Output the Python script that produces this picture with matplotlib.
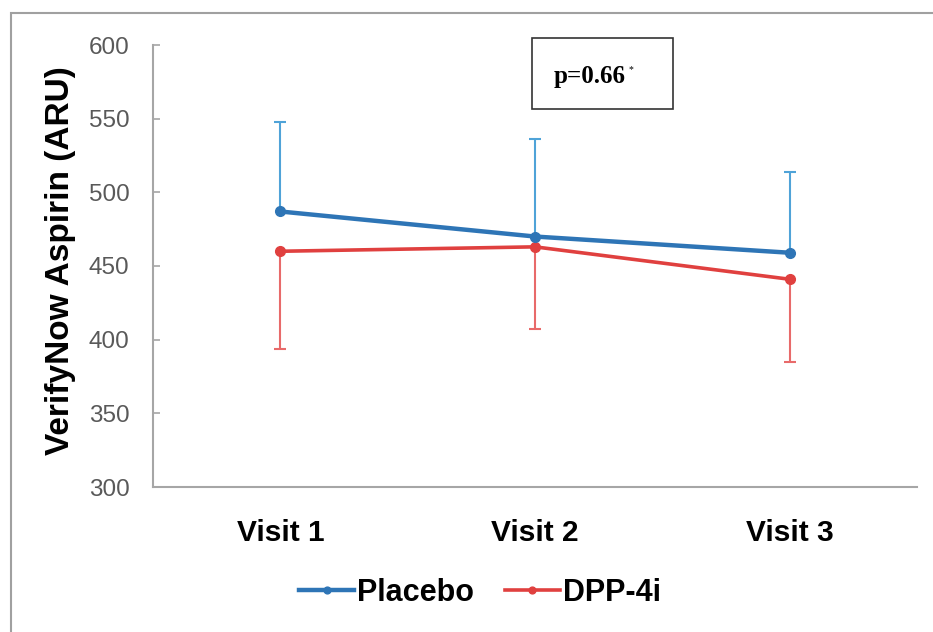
import matplotlib
matplotlib.use("Agg")
import matplotlib.pyplot as plt
from matplotlib.patches import Rectangle
import numpy as np

visits = ["Visit 1", "Visit 2", "Visit 3"]
placebo = [487, 470, 459]
placebo_sd = [61, 66, 55]
dpp4i = [460, 463, 441]
dpp4i_sd = [66, 56, 56]
series_names = ["Placebo", "DPP-4i"]
y_ticks = [300, 350, 400, 450, 500, 550, 600]

W, H = 933, 632
fig = plt.figure(figsize=(W / 100, H / 100), dpi=100)
ax = fig.add_axes([153 / W, 1 - 487 / H, (917 - 153) / W, (487 - 45) / H])

narrow = ["Liberation Sans Narrow", "Liberation Sans", "DejaVu Sans"]
x = np.arange(len(visits))
placebo = np.array(placebo)
dpp4i = np.array(dpp4i)
placebo_sd = np.array(placebo_sd)
dpp4i_sd = np.array(dpp4i_sd)

blue, blue_err = "#2E75B6", "#4FA3D8"
red, red_err = "#E0403F", "#E86A6A"

# one-sided error bars: placebo up, DPP-4i down
ax.vlines(x, placebo, placebo + placebo_sd, color=blue_err, lw=1.5, zorder=2)
ax.plot(x, placebo + placebo_sd, ls="none", marker="_", ms=9, mew=1.5, color=blue_err, zorder=2)
ax.vlines(x, dpp4i - dpp4i_sd, dpp4i, color=red_err, lw=1.5, zorder=2)
ax.plot(x, dpp4i - dpp4i_sd, ls="none", marker="_", ms=9, mew=1.5, color=red_err, zorder=2)

ax.plot(x, placebo, color=blue, lw=3.2, marker="o", ms=7, label=series_names[0], zorder=4)
ax.plot(x, dpp4i, color=red, lw=2.6, marker="o", ms=7, label=series_names[1], zorder=3)

ax.set_xlim(-0.5, 2.5)
ax.set_ylim(300, 600)
ax.set_yticks(y_ticks)
ax.set_xticks(x)
ax.set_xticklabels(visits, fontfamily=narrow, fontweight="bold", fontsize=21.5)
ax.tick_params(axis="x", length=0, pad=23)
ax.tick_params(axis="y", direction="in", length=5, width=1.2, color="#A6A6A6",
               labelsize=17.5, labelcolor="#595959", pad=17)
for lab in ax.get_yticklabels():
    lab.set_fontfamily(["Liberation Sans", "DejaVu Sans"])

for s in ["top", "right"]:
    ax.spines[s].set_visible(False)
for s in ["left", "bottom"]:
    ax.spines[s].set_color("#A6A6A6")
    ax.spines[s].set_linewidth(1.5)

fig.text(61 / W, 1 - 261 / H, "VerifyNow Aspirin (ARU)", rotation=90,
         ha="center", va="center", fontsize=24, fontweight="bold",
         family=["Liberation Sans", "DejaVu Sans"])

# p-value box
fig.add_artist(Rectangle((532 / W, 1 - 109 / H), 141 / W, 71 / H,
                         transform=fig.transFigure, fill=False, ec="#333333", lw=1.2))
fig.text(590 / W, 1 - 77 / H, "p=0.66", ha="center", va="center",
         fontsize=18, fontweight="bold", family=["Liberation Serif", "DejaVu Serif"])
fig.text(631 / W, 1 - 70 / H, "*", ha="center", va="center", fontsize=7,
         family=["Liberation Serif", "DejaVu Serif"])

# outer frame
fig.add_artist(Rectangle((11 / W, -0.1), 1.2, 1 - 13 / H + 0.1,
                         transform=fig.transFigure, fill=False, ec="#A0A0A0", lw=1.5))

fig.legend(loc="center", bbox_to_anchor=(480 / W, 1 - 593 / H), ncol=2,
           frameon=False, handlelength=1.8, handletextpad=0.1, columnspacing=1.0,
           prop={"family": narrow, "weight": "bold", "size": 22}, markerscale=0.7)

fig.savefig("out.png", dpi=100)
